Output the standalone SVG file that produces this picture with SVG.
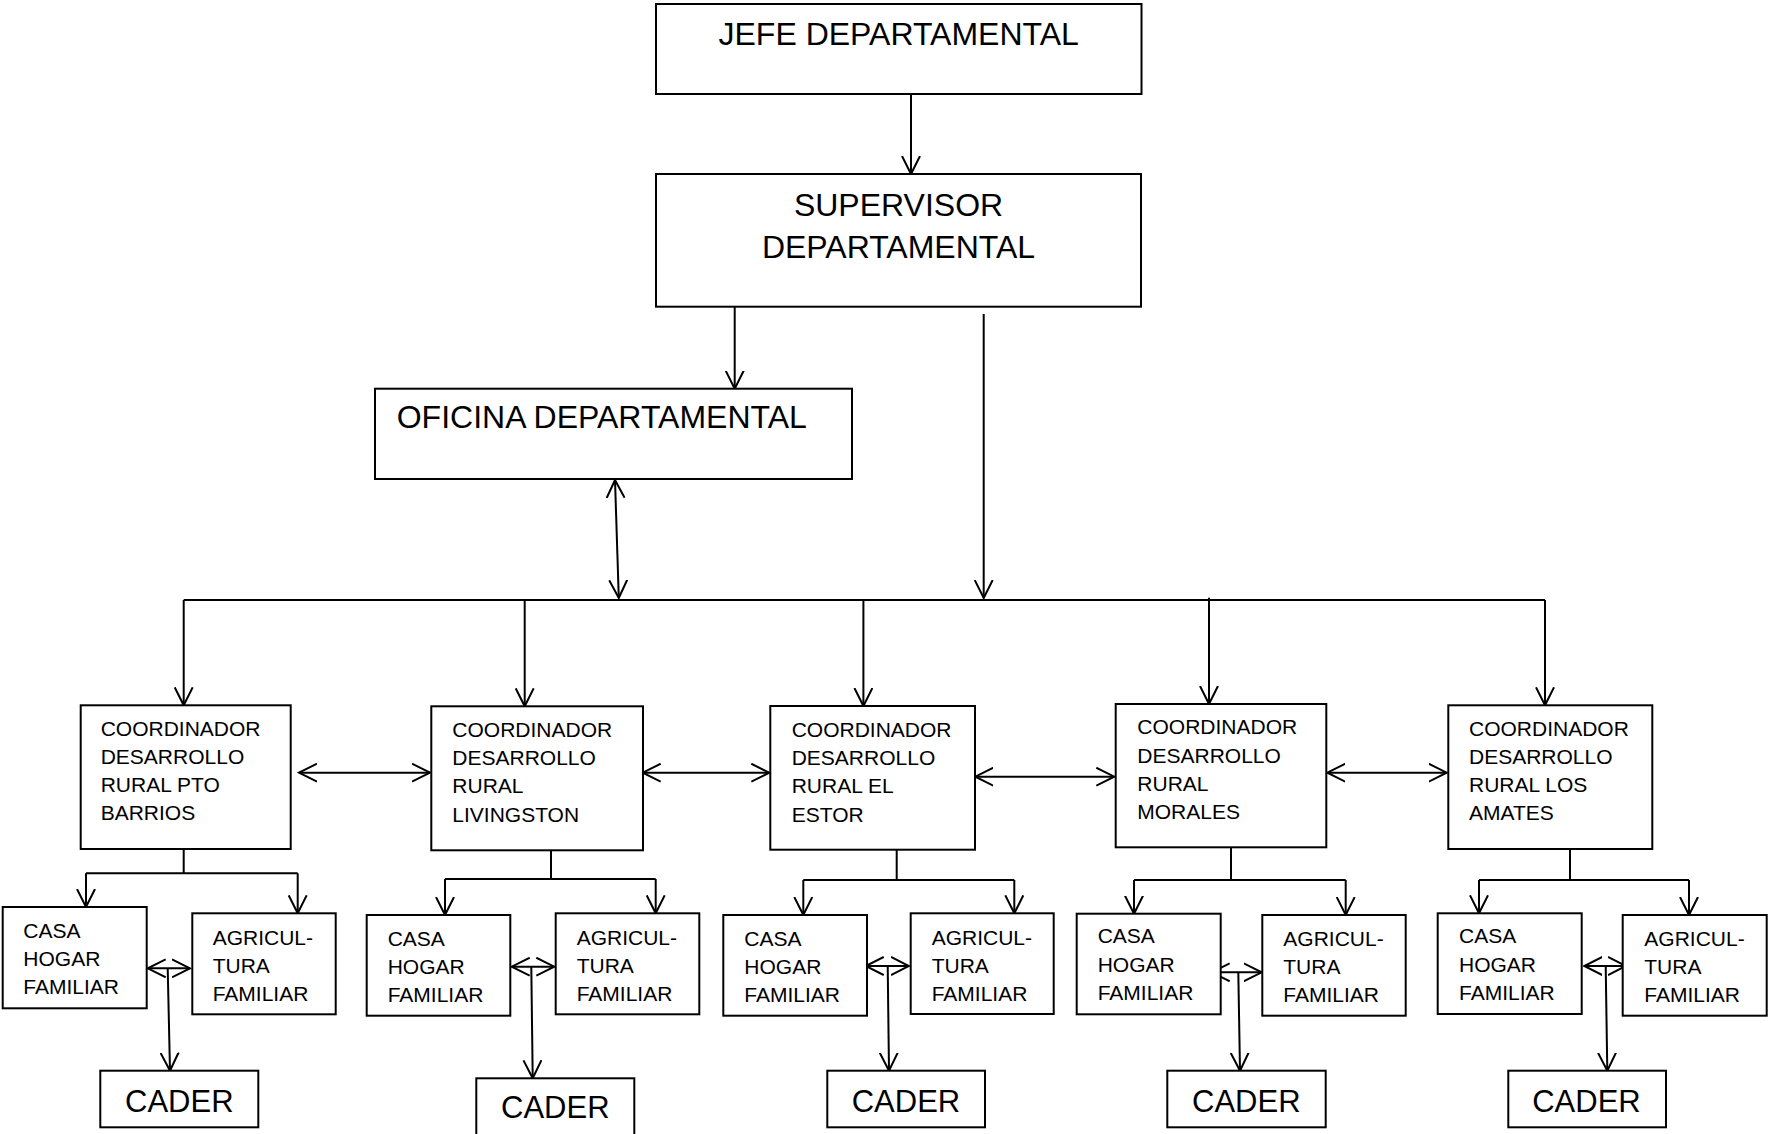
<svg xmlns="http://www.w3.org/2000/svg" width="1768" height="1134" viewBox="0 0 1768 1134">
<style>
.box{fill:#fff;stroke:#000;stroke-width:2}
.t{font-family:"Liberation Sans",Arial,sans-serif;fill:#000}
.big{font-size:32px}
.cad{font-size:31px}
.sm{font-size:21px}
.ln{fill:none;stroke:#000;stroke-width:2}
.ar{fill:none;stroke:#000;stroke-width:2;marker-end:url(#ah)}
.da{fill:none;stroke:#000;stroke-width:2;marker-start:url(#ah);marker-end:url(#ah)}
</style>
<defs>
<marker id="ah" viewBox="0 0 20 20" refX="18" refY="10" markerWidth="20" markerHeight="20" markerUnits="userSpaceOnUse" orient="auto-start-reverse">
<path d="M0,1 L18,10 L0,19" fill="none" stroke="#000" stroke-width="2"/>
</marker>
</defs>
<rect width="1768" height="1134" fill="#fff"/>

<g id="connectors">
<path class="ar" d="M911,94 V174"/>
<path class="ar" d="M734.7,307 V388.7"/>
<path class="ar" d="M983.7,314 V598"/>
<path class="da" d="M615,480 L618.8,598"/>
<path class="ln" d="M183.7,600 H1545"/>
<path class="ar" d="M183.7,600 V705.3"/>
<path class="ar" d="M524.7,600 V706.3"/>
<path class="ar" d="M863.4,600 V706"/>
<path class="ar" d="M1209,597.7 V704"/>
<path class="ar" d="M1545,600 V705.3"/>
<path class="da" d="M299,772.7 H430"/>
<path class="da" d="M642.7,772.7 H769.3"/>
<path class="da" d="M975.3,776.7 H1114.3"/>
<path class="da" d="M1327.3,772.7 H1446.7"/>
<path class="ln" d="M183.7,849 V873.3 M86,873.3 H297.7"/>
<path class="ar" d="M86,873.3 V907"/>
<path class="ar" d="M297.7,873.3 V913.3"/>
<path class="ln" d="M551,850.3 V879 M445,879 H655.7"/>
<path class="ar" d="M445,879 V915"/>
<path class="ar" d="M655.7,879 V913.3"/>
<path class="ln" d="M896.7,849.7 V880 M803.3,880 H1014.3"/>
<path class="ar" d="M803.3,880 V915"/>
<path class="ar" d="M1014.3,880 V913.3"/>
<path class="ln" d="M1231,847.3 V880 M1134,880 H1345.7"/>
<path class="ar" d="M1134,880 V913.7"/>
<path class="ar" d="M1345.7,880 V915"/>
<path class="ln" d="M1570,849 V880 M1479,880 H1689"/>
<path class="ar" d="M1479,880 V913.3"/>
<path class="ar" d="M1689,880 V915"/>
<path class="da" d="M147.7,968.3 H190"/>
<path class="ar" d="M167.7,968.3 L170,1070.7"/>
<path class="da" d="M511.7,966.7 H554.3"/>
<path class="ar" d="M531.3,966.7 L532.7,1078.3"/>
<path class="da" d="M865.7,966 H909"/>
<path class="ar" d="M887.7,966 L889,1070.7"/>
<path class="da" d="M1211.7,972.3 H1261.7"/>
<path class="ar" d="M1238.3,972.3 L1240,1070.7"/>
<path class="da" d="M1584.3,966 H1626"/>
<path class="ar" d="M1605.7,966 L1607.3,1070.7"/>
</g>

<g id="jefe">
<rect class="box" x="656" y="4" width="485.5" height="90"/>
<text class="t big" x="898.7" y="45" text-anchor="middle">JEFE DEPARTAMENTAL</text>
</g>
<g id="supervisor">
<rect class="box" x="656" y="174" width="485" height="132.7"/>
<text class="t big" x="898.5" y="216" text-anchor="middle">SUPERVISOR</text>
<text class="t big" x="898.5" y="258" text-anchor="middle">DEPARTAMENTAL</text>
</g>
<g id="oficina">
<rect class="box" x="375" y="388.7" width="477" height="90.3"/>
<text class="t big" x="396.7" y="428.3">OFICINA DEPARTAMENTAL</text>
</g>

<g id="coord1">
<rect class="box" x="80.7" y="705.3" width="210" height="143.7"/>
<text class="t sm" x="100.7" y="735.7"><tspan x="100.7">COORDINADOR</tspan><tspan x="100.7" dy="28.2">DESARROLLO</tspan><tspan x="100.7" dy="28.2">RURAL PTO</tspan><tspan x="100.7" dy="28.2">BARRIOS</tspan></text>
</g>
<g id="coord2">
<rect class="box" x="431.3" y="706.3" width="211.7" height="144"/>
<text class="t sm" x="452.3" y="736.7"><tspan x="452.3">COORDINADOR</tspan><tspan x="452.3" dy="28.3">DESARROLLO</tspan><tspan x="452.3" dy="28.3">RURAL</tspan><tspan x="452.3" dy="28.3">LIVINGSTON</tspan></text>
</g>
<g id="coord3">
<rect class="box" x="770.3" y="706" width="204.7" height="143.7"/>
<text class="t sm" x="791.7" y="736.7"><tspan x="791.7">COORDINADOR</tspan><tspan x="791.7" dy="28.3">DESARROLLO</tspan><tspan x="791.7" dy="28.3">RURAL EL</tspan><tspan x="791.7" dy="28.3">ESTOR</tspan></text>
</g>
<g id="coord4">
<rect class="box" x="1115.7" y="704" width="210.6" height="143.3"/>
<text class="t sm" x="1137.3" y="734.3"><tspan x="1137.3">COORDINADOR</tspan><tspan x="1137.3" dy="28.2">DESARROLLO</tspan><tspan x="1137.3" dy="28.2">RURAL</tspan><tspan x="1137.3" dy="28.2">MORALES</tspan></text>
</g>
<g id="coord5">
<rect class="box" x="1448.3" y="705.3" width="204" height="143.7"/>
<text class="t sm" x="1469" y="735.7"><tspan x="1469">COORDINADOR</tspan><tspan x="1469" dy="28.2">DESARROLLO</tspan><tspan x="1469" dy="28.2">RURAL LOS</tspan><tspan x="1469" dy="28.2">AMATES</tspan></text>
</g>

<g id="casa1">
<rect class="box" x="2.7" y="907" width="144" height="101.3"/>
<text class="t sm" x="23.3" y="938.3"><tspan x="23.3">CASA</tspan><tspan x="23.3" dy="27.8">HOGAR</tspan><tspan x="23.3" dy="27.8">FAMILIAR</tspan></text>
</g>
<g id="agri1">
<rect class="box" x="192.3" y="913.3" width="143.4" height="101"/>
<text class="t sm" x="212.7" y="945"><tspan x="212.7">AGRICUL-</tspan><tspan x="212.7" dy="27.8">TURA</tspan><tspan x="212.7" dy="27.8">FAMILIAR</tspan></text>
</g>
<g id="casa2">
<rect class="box" x="366.7" y="915" width="143.6" height="100.7"/>
<text class="t sm" x="387.7" y="946"><tspan x="387.7">CASA</tspan><tspan x="387.7" dy="27.8">HOGAR</tspan><tspan x="387.7" dy="27.8">FAMILIAR</tspan></text>
</g>
<g id="agri2">
<rect class="box" x="555.7" y="913.3" width="143.6" height="101"/>
<text class="t sm" x="576.7" y="945"><tspan x="576.7">AGRICUL-</tspan><tspan x="576.7" dy="27.8">TURA</tspan><tspan x="576.7" dy="27.8">FAMILIAR</tspan></text>
</g>
<g id="casa3">
<rect class="box" x="723.3" y="915" width="143.7" height="100.7"/>
<text class="t sm" x="744.3" y="946"><tspan x="744.3">CASA</tspan><tspan x="744.3" dy="27.8">HOGAR</tspan><tspan x="744.3" dy="27.8">FAMILIAR</tspan></text>
</g>
<g id="agri3">
<rect class="box" x="910.7" y="913.3" width="143" height="100.7"/>
<text class="t sm" x="931.7" y="945"><tspan x="931.7">AGRICUL-</tspan><tspan x="931.7" dy="27.8">TURA</tspan><tspan x="931.7" dy="27.8">FAMILIAR</tspan></text>
</g>
<g id="casa4">
<rect class="box" x="1076.7" y="913.7" width="144" height="100.6"/>
<text class="t sm" x="1097.7" y="943.3"><tspan x="1097.7">CASA</tspan><tspan x="1097.7" dy="28.3">HOGAR</tspan><tspan x="1097.7" dy="28.3">FAMILIAR</tspan></text>
</g>
<g id="agri4">
<rect class="box" x="1262.3" y="915" width="143.4" height="100.7"/>
<text class="t sm" x="1283.3" y="946"><tspan x="1283.3">AGRICUL-</tspan><tspan x="1283.3" dy="27.8">TURA</tspan><tspan x="1283.3" dy="27.8">FAMILIAR</tspan></text>
</g>
<g id="casa5">
<rect class="box" x="1437.7" y="913.3" width="144" height="100.7"/>
<text class="t sm" x="1459" y="943.3"><tspan x="1459">CASA</tspan><tspan x="1459" dy="28.3">HOGAR</tspan><tspan x="1459" dy="28.3">FAMILIAR</tspan></text>
</g>
<g id="agri5">
<rect class="box" x="1622.7" y="915" width="144" height="100.7"/>
<text class="t sm" x="1644.3" y="946"><tspan x="1644.3">AGRICUL-</tspan><tspan x="1644.3" dy="27.8">TURA</tspan><tspan x="1644.3" dy="27.8">FAMILIAR</tspan></text>
</g>

<g id="cader1">
<rect class="box" x="100.3" y="1070.7" width="158" height="56.6"/>
<text class="t cad" x="179.3" y="1111.7" text-anchor="middle">CADER</text>
</g>
<g id="cader2">
<rect class="box" x="476.3" y="1078.3" width="158" height="58"/>
<text class="t cad" x="555.3" y="1118.3" text-anchor="middle">CADER</text>
</g>
<g id="cader3">
<rect class="box" x="827.3" y="1070.7" width="157.7" height="56.6"/>
<text class="t cad" x="906" y="1111.7" text-anchor="middle">CADER</text>
</g>
<g id="cader4">
<rect class="box" x="1167.3" y="1070.7" width="158.4" height="56.6"/>
<text class="t cad" x="1246.3" y="1111.7" text-anchor="middle">CADER</text>
</g>
<g id="cader5">
<rect class="box" x="1508.3" y="1070.7" width="157.7" height="56.6"/>
<text class="t cad" x="1586.5" y="1111.7" text-anchor="middle">CADER</text>
</g>
</svg>
